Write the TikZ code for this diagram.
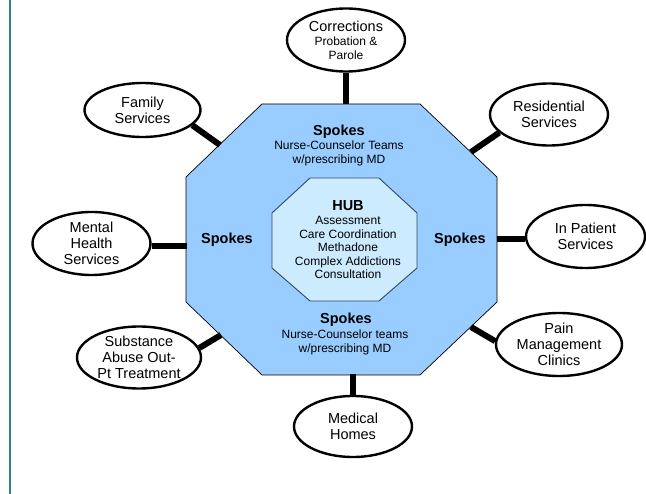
\documentclass[tikz,border=0pt]{standalone}
\usepackage{fontspec}
\setmainfont{Liberation Sans}
\usetikzlibrary{shapes.geometric}
\definecolor{outerblue}{HTML}{99CCFF}
\definecolor{hubblue}{HTML}{CCEBFF}
\definecolor{hubedge}{HTML}{33475F}
\definecolor{sideline}{HTML}{2F8486}
\tikzset{
  svc/.style={ellipse, draw=black, line width=2.4pt, fill=white, inner sep=0pt, align=center,
    font=\fontsize{14.5}{16}\selectfont},
  spoke/.style={line width=6pt, black},
  lbl/.style={align=center, inner sep=0pt, font=\fontsize{12}{14}\selectfont},
  bigl/.style={inner sep=0pt, font=\bfseries\fontsize{14.5}{16}\selectfont},
}
\begin{document}
\begin{tikzpicture}[x=1pt,y=-1pt]
\useasboundingbox (0,0) rectangle (646,494);
\fill[white] (0,0) rectangle (646,494);
\draw[sideline, line width=1.5pt] (10,0) -- (10,494);

% outer octagon
\draw[fill=outerblue, draw=black, line width=0.7pt]
  (262,104) -- (420,104) -- (497,177) -- (497,302) -- (420,375) -- (262,375) -- (186,302) -- (186,177) -- cycle;
% hub octagon
\draw[fill=hubblue, draw=hubedge, line width=0.9pt]
  (310,178) -- (379,178) -- (417,213) -- (417,268) -- (379,301) -- (310,301) -- (272,268) -- (272,213) -- cycle;

% edge coordinates for connectors
\coordinate (ctop) at (346,104.5);
\coordinate (cfam) at (220,145);
\coordinate (cres) at (471,152);
\coordinate (cmen) at (186.5,246);
\coordinate (cinp) at (496.5,239);
\coordinate (csub) at (221,335);
\coordinate (cpain) at (471,327);
\coordinate (cmed) at (353,374.5);

% service ellipses
\node[svc, minimum width=118pt, minimum height=63pt] (corr) at (346,40)
  {Corrections\\[-2pt]{\fontsize{12}{14}\selectfont Probation \&}\\[-2pt]{\fontsize{12}{14}\selectfont Parole}};
\node[svc, minimum width=116pt, minimum height=54pt] (fam) at (142.5,110) {Family\\Services};
\node[svc, minimum width=118pt, minimum height=62pt] (res) at (549,114.5) {Residential\\Services};
\node[svc, minimum width=118pt, minimum height=63pt] (men) at (91.5,243.5) {Mental\\Health\\Services};
\node[svc, minimum width=119pt, minimum height=63pt] (inp) at (585.5,236.5) {In Patient\\Services};
\node[svc, minimum width=124pt, minimum height=62pt] (sub) at (139,357.5) {Substance\\Abuse Out-\\Pt Treatment};
\node[svc, minimum width=126pt, minimum height=63pt] (pain) at (559,344.5) {Pain\\Management\\Clinics};
\node[svc, minimum width=118pt, minimum height=61pt] (med) at (353,426.5) {Medical\\Homes};

% connectors
\draw[spoke] (corr.south) -- (ctop);
\draw[spoke] (fam.-17) -- (cfam);
\draw[spoke] (res.200) -- (cres);
\draw[spoke] (men.east |- cmen) -- (cmen);
\draw[spoke] (inp.west |- cinp) -- (cinp);
\draw[spoke] (sub.9) -- (csub);
\draw[spoke] (pain.177) -- (cpain);
\draw[spoke] (med.north) -- (cmed);

% labels inside
\node[bigl] (sptop) at (339,132) {Spokes};
\node[lbl, anchor=north] (sptopt) at (339,141) {Nurse-Counselor Teams\\w/prescribing MD};
\node[bigl] (hub) at (348,206) {HUB};
\node[lbl, anchor=north, font=\fontsize{12}{13.4}\selectfont] (hubt) at (348,216.5)
  {Assessment\\Care Coordination\\Methadone\\Complex Addictions\\Consultation};
\node[bigl] (spleft) at (227,239.5) {Spokes};
\node[bigl] (spright) at (460,239.5) {Spokes};
\node[bigl] (spbot) at (346,319.5) {Spokes};
\node[lbl, anchor=north] (spbott) at (345,330) {Nurse-Counselor teams\\w/prescribing MD};
\end{tikzpicture}
\end{document}
